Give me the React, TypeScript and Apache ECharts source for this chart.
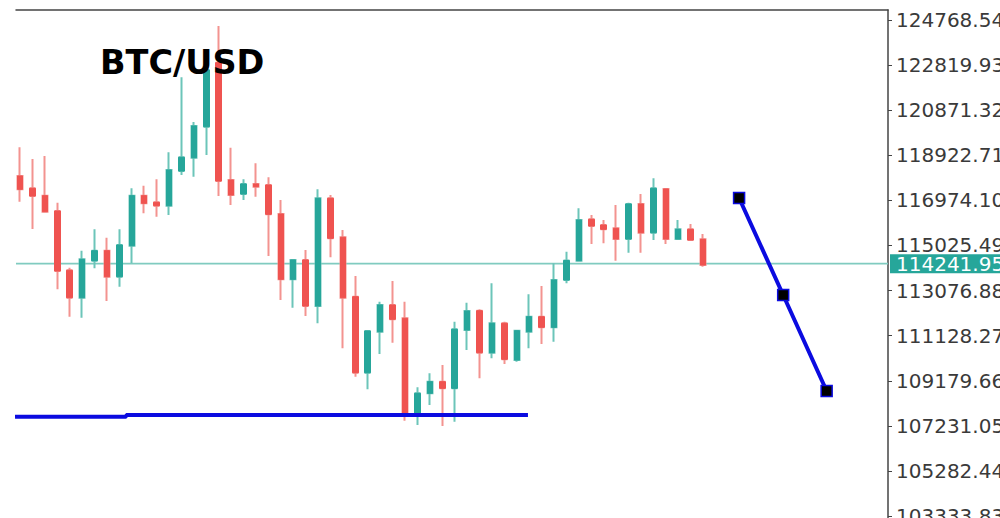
import React, { useEffect, useRef } from "react";
import * as echarts from "echarts";

// ---- data ----
const OPEN = [118028,117497,117177,116516,113954,112770,114369,114801,113677,115017,117177,116892,116745,118244,118819,120158,122924,117855,117250,117683,117639,116386,113565,114399,112411,117065,115380,112813,109529,111301,112455,111880,107745,108639,109141,108855,111374,112208,110394,111664,110078,111301,111949,111491,113535,114369,116157,115911,115768,115306,116818,115578,117467,115306,115725,115293];
const CLOSE = [117454,117164,116486,113924,112770,114429,114801,113677,115047,117177,116849,116745,118287,118836,120189,122608,117812,117207,117683,117566,116373,113565,114399,112411,117065,115336,112770,109529,111331,112455,111837,107745,108639,109141,108855,111405,112195,110394,111664,110108,111344,111949,111491,113535,114377,116127,115868,115725,115306,116818,115578,117497,115306,115725,115263,114183];
const LOW = [116918,115738,116443,113133,111949,111906,114040,112627,113245,114256,116417,116270,116343,118071,117998,118936,117164,116775,116991,117134,114572,112671,112338,111979,111664,114515,110584,109357,108812,110337,110826,107455,107270,108134,107226,107412,110510,109287,110152,109905,110005,110584,110769,110869,113392,114334,115090,115120,114369,114714,114714,115263,115090,115293,115241,114109];
const HIGH = [119268,118763,118892,116875,114066,114801,115725,115362,115725,117497,117609,117886,119052,122293,120361,122954,124509,119251,117886,118577,117972,116991,114442,114831,117454,117207,115695,113708,111374,112597,113491,112597,108899,109503,109862,111733,112554,112269,113392,111733,111374,112917,113275,114256,114757,116633,116343,116127,116775,116875,117250,117929,117497,116127,115954,115522];

const CURRENT_PRICE = 114241.95;
const CURRENT_LABEL = "114241.95";

const Y_TICK_LABELS = ["124768.54","122819.93","120871.32","118922.71","116974.10","115025.49","113076.88","111128.27","109179.66","107231.05","105282.44","103333.83"];

// projection line (x in bar index units, y price)
const PROJ_X = [57.9, 61.45, 64.95];
const PROJ_Y = [117078, 112887, 108739];

// support line (bar index, price)
const SUPPORT_X = [-0.4, 8.55, 8.55, 40.9];
const SUPPORT_Y = [107621, 107621, 107707, 107707];

const TITLE = "BTC/USD";

// ---- layout ----
const X_MIN = -0.322;
const X_MAX = 69.89;
const Y_MIN = 103251.4;
const Y_MAX = 125200.6;

const GREEN = "#26a69a";
const RED = "#ef5350";
const GREEN_WICK = "#6cc5b9";
const RED_WICK = "#f39390";
const FONT = "DejaVu Sans";

export default function App() {
  const ref = useRef<HTMLDivElement>(null);
  useEffect(() => {
    if (!ref.current) return;
    const chart = echarts.init(ref.current, null, { renderer: "svg" });
    const tickVals = Y_TICK_LABELS.map((s) => parseFloat(s));
    const full = OPEN.map((o, i) => [i, o, CLOSE[i], LOW[i], HIGH[i]]);
    const bodies = OPEN.map((o, i) => [i, o, CLOSE[i], Math.min(o, CLOSE[i]), Math.max(o, CLOSE[i])]);
    chart.setOption({
      animation: false,
      backgroundColor: "#ffffff",
      grid: { left: 16, right: 112, top: 10, bottom: 0, containLabel: false, outerBoundsMode: "none" },
      xAxis: {
        type: "value",
        position: "top",
        min: X_MIN,
        max: X_MAX,
        axisLine: { show: true, onZero: false, lineStyle: { color: "#444", width: 1.5 } },
        axisTick: { show: false },
        axisLabel: { show: false },
        splitLine: { show: false },
      },
      yAxis: {
        type: "value",
        position: "right",
        min: Y_MIN,
        max: Y_MAX,
        axisLine: { show: true, onZero: false, lineStyle: { color: "#444", width: 1.5 } },
        axisTick: { show: true, length: 4, customValues: tickVals, lineStyle: { color: "#444" } },
        axisLabel: {
          show: true,
          customValues: tickVals,
          margin: 8,
          color: "#3a3a3a",
          fontFamily: FONT,
          fontSize: 20,
          formatter: (v: number) => {
            let best = 0;
            let bd = Infinity;
            tickVals.forEach((t, i) => {
              const d = Math.abs(t - v);
              if (d < bd) { bd = d; best = i; }
            });
            return Y_TICK_LABELS[best];
          },
        },
        splitLine: { show: false },
      },
      graphic: [
        {
          type: "text",
          left: 100,
          top: 45,
          z: 100,
          style: { text: TITLE, font: `bold 33.5px "${FONT}"`, fill: "#000" },
        },
      ],
      series: [
        {
          type: "line",
          z: 1,
          silent: true,
          symbol: "none",
          data: [[X_MIN, CURRENT_PRICE], [X_MAX, CURRENT_PRICE]],
          lineStyle: { color: "#80cbc0", width: 1.8 },
          endLabel: {
            show: true,
            formatter: () => CURRENT_LABEL,
            distance: 2,
            backgroundColor: GREEN,
            color: "#ffffff",
            padding: [1, 12, 0, 6],
            lineHeight: 18,
            fontSize: 20,
            fontFamily: FONT,
          },
        },
        {
          type: "candlestick",
          z: 2,
          silent: true,
          clip: false,
          barWidth: 5,
          encode: { x: 0, y: [1, 2, 3, 4] },
          data: full,
          itemStyle: {
            color: GREEN_WICK,
            color0: RED_WICK,
            borderColor: GREEN_WICK,
            borderColor0: RED_WICK,
            borderWidth: 2,
          },
        },
        {
          type: "candlestick",
          z: 3,
          silent: true,
          clip: false,
          barWidth: 6,
          encode: { x: 0, y: [1, 2, 3, 4] },
          data: bodies,
          itemStyle: {
            color: GREEN,
            color0: RED,
            borderColor: GREEN,
            borderColor0: RED,
            borderWidth: 1,
          },
        },
        {
          type: "line",
          z: 4,
          silent: true,
          symbol: "none",
          data: SUPPORT_X.map((x, i) => [x, SUPPORT_Y[i]]),
          lineStyle: { color: "#0b0be0", width: 4 },
        },
        {
          type: "line",
          z: 5,
          silent: true,
          symbol: "rect",
          symbolSize: 11,
          data: PROJ_X.map((x, i) => [x, PROJ_Y[i]]),
          lineStyle: { color: "#0b0be0", width: 4 },
          itemStyle: { color: "#000000", borderColor: "#0b0be0", borderWidth: 1.5 },
        },
      ],
    });
    return () => chart.dispose();
  }, []);
  return (
    <div
      ref={ref}
      style={{ position: "fixed", left: 0, top: 0, width: 1000, height: 518, background: "#fff" }}
    />
  );
}
